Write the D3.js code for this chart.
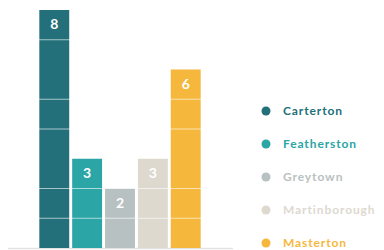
<!DOCTYPE html>
<html>
<head>
<meta charset="utf-8">
<script src="https://cdn.jsdelivr.net/npm/d3@7"></script>
<style>
  body { margin: 0; background: #fff; }
  svg { display: block; }
</style>
</head>
<body>
<div id="chart"></div>
<script>
const towns = ["Carterton", "Featherston", "Greytown", "Martinborough", "Masterton"];
const counts = [8, 3, 2, 3, 6];
const colors = ["#23707a", "#2ba5a5", "#b8c1c1", "#ddd9cf", "#f5b83d"];
const dividerValues = [1, 2, 4, 5, 7];

const width = 384;
const height = 250;
const margin = { top: 10, bottom: 2, left: 38, right: 182 };

const svg = d3.select("#chart")
  .append("svg")
  .attr("width", width)
  .attr("height", height);

const x = d3.scaleBand()
  .domain(towns)
  .range([margin.left, width - margin.right])
  .paddingInner(0.09)
  .paddingOuter(0.04);

const y = d3.scaleLinear()
  .domain([0, 8])
  .range([height - margin.bottom, margin.top]);

// baseline
svg.append("line")
  .attr("x1", 8)
  .attr("x2", 233)
  .attr("y1", y(0) + 0.5)
  .attr("y2", y(0) + 0.5)
  .attr("stroke", "#e2e2e2")
  .attr("stroke-width", 1.5);

svg.append("g")
  .selectAll("rect")
  .data(towns)
  .join("rect")
    .attr("x", d => x(d))
    .attr("y", (d, i) => y(counts[i]))
    .attr("width", x.bandwidth())
    .attr("height", (d, i) => y(0) - y(counts[i]))
    .attr("fill", (d, i) => colors[i]);

// white divider lines across bars
svg.append("g")
  .selectAll("line")
  .data(dividerValues)
  .join("line")
    .attr("x1", margin.left)
    .attr("x2", width - margin.right)
    .attr("y1", d => y(d))
    .attr("y2", d => y(d))
    .attr("stroke", "#fff")
    .attr("stroke-opacity", 0.6)
    .attr("stroke-width", 1);

// value labels
svg.append("g")
  .selectAll("text")
  .data(towns)
  .join("text")
    .attr("x", d => x(d) + x.bandwidth() / 2)
    .attr("y", (d, i) => y(counts[i]) + 14)
    .attr("dy", "0.36em")
    .attr("text-anchor", "middle")
    .attr("fill", "#fff")
    .attr("font-family", "Lato, sans-serif")
    .attr("font-weight", 700)
    .attr("font-size", 14)
    .text((d, i) => counts[i]);

// legend
const legend = svg.append("g")
  .selectAll("g")
  .data(towns)
  .join("g")
    .attr("transform", (d, i) => `translate(266,${111 + i * 33})`);

legend.append("circle")
  .attr("r", 4.5)
  .attr("fill", (d, i) => colors[i]);

legend.append("text")
  .attr("x", 17)
  .attr("dy", "0.35em")
  .attr("fill", (d, i) => colors[i])
  .attr("font-family", "Lato, sans-serif")
  .attr("font-weight", 700)
  .attr("font-size", 12)
  .attr("letter-spacing", 0.9)
  .text(d => d);
</script>
</body>
</html>
